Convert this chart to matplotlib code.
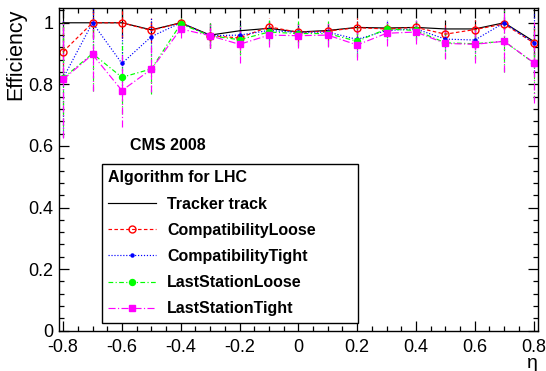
import matplotlib
matplotlib.use('Agg')
import matplotlib.pyplot as plt
from matplotlib.lines import Line2D
from matplotlib.ticker import MultipleLocator, FormatStrFormatter

plt.rcParams['font.family'] = ['Liberation Sans', 'DejaVu Sans']
plt.rcParams['axes.unicode_minus'] = False

# eta bin centres
eta = [-0.8, -0.7, -0.6, -0.5, -0.4, -0.3, -0.2, -0.1, 0.0,
       0.1, 0.2, 0.3, 0.4, 0.5, 0.6, 0.7, 0.8]

tracker = [1.0, 1.0, 1.0, 0.977, 1.0, 0.96, 0.974, 0.982, 0.97,
           0.975, 0.985, 0.983, 0.985, 0.98, 0.98, 1.0, 0.94]
tracker_err = [0.1, 0.05, 0.05, 0.03, 0.01, 0.035, 0.035, 0.02, 0.025,
               0.02, 0.02, 0.02, 0.02, 0.03, 0.03, 0.02, 0.05]

comp_loose = [0.906, 1.0, 1.0, 0.975, 1.0, 0.958, 0.951, 0.987, 0.969,
              0.973, 0.984, 0.98, 0.985, 0.963, 0.978, 0.996, 0.935]
comp_loose_err = [0.1, 0.05, 0.05, 0.04, 0.01, 0.04, 0.04, 0.03, 0.03,
                  0.03, 0.03, 0.02, 0.02, 0.04, 0.03, 0.02, 0.06]

comp_tight = [0.82, 1.0, 0.868, 0.955, 1.0, 0.958, 0.96, 0.975, 0.969,
              0.97, 0.946, 0.975, 0.98, 0.947, 0.944, 1.0, 0.935]
comp_tight_err = [0.19, 0.1, 0.1, 0.06, 0.01, 0.04, 0.04, 0.03, 0.03,
                  0.03, 0.04, 0.03, 0.03, 0.04, 0.04, 0.02, 0.1]

ls_loose = [0.82, 0.9, 0.823, 0.85, 0.996, 0.958, 0.945, 0.97, 0.965,
            0.965, 0.94, 0.98, 0.975, 0.935, 0.932, 0.94, 0.87]
ls_loose_err = [0.19, 0.12, 0.12, 0.08, 0.02, 0.04, 0.05, 0.04, 0.04,
                0.04, 0.05, 0.03, 0.03, 0.05, 0.05, 0.1, 0.12]

ls_tight = [0.816, 0.897, 0.78, 0.849, 0.98, 0.958, 0.93, 0.96, 0.958,
            0.96, 0.928, 0.966, 0.97, 0.933, 0.93, 0.94, 0.871]
ls_tight_err = [0.19, 0.12, 0.12, 0.075, 0.03, 0.04, 0.06, 0.04, 0.04,
                0.04, 0.05, 0.04, 0.04, 0.05, 0.06, 0.1, 0.13]

series = [
    ('Tracker track', tracker, tracker_err, 'black', '-', None, 0, True),
    ('CompatibilityLoose', comp_loose, comp_loose_err, 'red', (0, (3, 2)), 'o', 5.0, False),
    ('CompatibilityTight', comp_tight, comp_tight_err, 'blue', (0, (1, 1.5)), 'o', 2.2, True),
    ('LastStationLoose', ls_loose, ls_loose_err, '#00ff00', (0, (4, 2, 1, 2)), 'o', 4.3, True),
    ('LastStationTight', ls_tight, ls_tight_err, 'magenta', (0, (6, 2, 1, 2)), 's', 4.6, True),
]

fig = plt.figure(figsize=(5.46, 3.71), dpi=100)
ax = fig.add_axes([0.1075, 0.1086, 0.8778, 0.869])

handles = []
for name, vals, errs, col, ls, mk, ms, filled in series:
    cont = ax.errorbar(eta, vals, yerr=errs, color=col, ls=ls, lw=0.85,
                       marker=mk, ms=ms, mfc=col if filled else 'none',
                       mec=col, mew=1.0, elinewidth=0.85, capsize=0)
    cont[2][0].set_linestyle(ls)
    handles.append(Line2D([], [], color=col, ls=ls, lw=0.85, marker=mk, ms=ms,
                          mfc=col if filled else 'none', mec=col, mew=1.0))

ax.set_xlim(-0.815, 0.815)
ax.set_ylim(0, 1.047)
ax.xaxis.set_major_locator(MultipleLocator(0.2))
ax.xaxis.set_minor_locator(MultipleLocator(0.05))
ax.yaxis.set_major_locator(MultipleLocator(0.2))
ax.yaxis.set_minor_locator(MultipleLocator(0.04))
ax.xaxis.set_major_formatter(FormatStrFormatter('%g'))
ax.yaxis.set_major_formatter(FormatStrFormatter('%g'))
ax.tick_params(which='both', direction='in', top=True, right=True,
               width=0.9, labelsize=13)
ax.tick_params(which='major', length=7)
ax.tick_params(which='minor', length=3.7)
ax.tick_params(axis='y', pad=4)
ax.tick_params(axis='x', pad=6)
for sp in ax.spines.values():
    sp.set_linewidth(1.0)

ax.set_ylabel('Efficiency', loc='top', fontsize=15.5, labelpad=1)
ax.set_xlabel('η', loc='right', fontsize=14, labelpad=-1)

ax.text(0.149, 0.56, 'CMS 2008', transform=ax.transAxes, fontsize=11.5,
        fontweight='bold')

leg = ax.legend(handles, [s[0] for s in series], title='Algorithm for LHC',
                loc='lower left', bbox_to_anchor=(0.0897, 0.0248, 0.535, 0.49),
                mode='expand',
                fontsize=11.5, title_fontproperties={'weight': 'bold', 'size': 11.5},
                frameon=True, fancybox=False, edgecolor='black', framealpha=1,
                borderpad=0.4, labelspacing=0.7, handlelength=3.0,
                handletextpad=0.7, borderaxespad=0)
leg._legend_box.align = 'left'
leg.get_frame().set_linewidth(1.0)
for t in leg.get_texts():
    t.set_fontweight('bold')

fig.savefig('out.png', dpi=100)
